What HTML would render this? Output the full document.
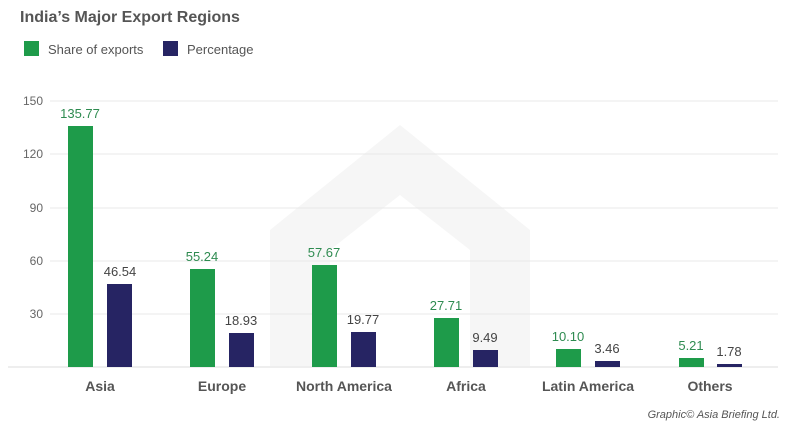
<!DOCTYPE html>
<html><head><style>body{margin:0;background:#fff}svg{display:block}</style></head><body>
<svg width="800" height="425" xmlns="http://www.w3.org/2000/svg" font-family="Liberation Sans, sans-serif">
<rect width="800" height="425" fill="#fff"/>
<path d="M270 366 L270 230 L400 125 L530 230 L530 366 L470 366 L470 250 L400 195 L330 250 L330 366 Z" fill="#f6f6f6"/>
<text x="20" y="22" font-size="16" font-weight="bold" fill="#555">India’s Major Export Regions</text>
<rect x="24" y="41" width="15" height="15" fill="#1e9b4a"/>
<text x="48" y="54" font-size="13" fill="#555">Share of exports</text>
<rect x="163" y="41" width="15" height="15" fill="#262463"/>
<text x="187" y="54" font-size="13" fill="#555">Percentage</text>
<g stroke="#e8e8e8" stroke-width="1">
<line x1="50" x2="778" y1="101" y2="101"/><line x1="50" x2="778" y1="154" y2="154"/>
<line x1="50" x2="778" y1="208" y2="208"/><line x1="50" x2="778" y1="261" y2="261"/>
<line x1="50" x2="778" y1="314" y2="314"/></g>
<line x1="8" x2="778" y1="367" y2="367" stroke="#ddd"/>
<g font-size="12" fill="#666" text-anchor="end">
<text x="43" y="105">150</text><text x="43" y="158">120</text><text x="43" y="212">90</text><text x="43" y="265">60</text><text x="43" y="318">30</text></g>
<g fill="#1e9b4a">
<rect x="68" y="126" width="25" height="241"/><rect x="190" y="269" width="25" height="98"/>
<rect x="312" y="265" width="25" height="102"/><rect x="434" y="318" width="25" height="49"/>
<rect x="556" y="349" width="25" height="18"/><rect x="679" y="358" width="25" height="9"/></g>
<g fill="#262463">
<rect x="107" y="284" width="25" height="83"/><rect x="229" y="333" width="25" height="34"/>
<rect x="351" y="332" width="25" height="35"/><rect x="473" y="350" width="25" height="17"/>
<rect x="595" y="361" width="25" height="6"/><rect x="717" y="364" width="25" height="3"/></g>
<g font-size="13" fill="#2e8b50" text-anchor="middle">
<text x="80" y="118">135.77</text><text x="202" y="261">55.24</text><text x="324" y="257">57.67</text>
<text x="446" y="310">27.71</text><text x="568" y="341">10.10</text><text x="691" y="350">5.21</text></g>
<g font-size="13" fill="#444" text-anchor="middle">
<text x="120" y="276">46.54</text><text x="241" y="325">18.93</text><text x="363" y="324">19.77</text>
<text x="485" y="342">9.49</text><text x="607" y="353">3.46</text><text x="729" y="356">1.78</text></g>
<g font-size="14" font-weight="bold" fill="#555" text-anchor="middle">
<text x="100" y="391">Asia</text><text x="222" y="391">Europe</text><text x="344" y="391">North America</text>
<text x="466" y="391">Africa</text><text x="588" y="391">Latin America</text><text x="710" y="391">Others</text></g>
<text x="780" y="418" font-size="11" font-style="italic" fill="#555" text-anchor="end">Graphic© Asia Briefing Ltd.</text>
</svg>
</body></html>
